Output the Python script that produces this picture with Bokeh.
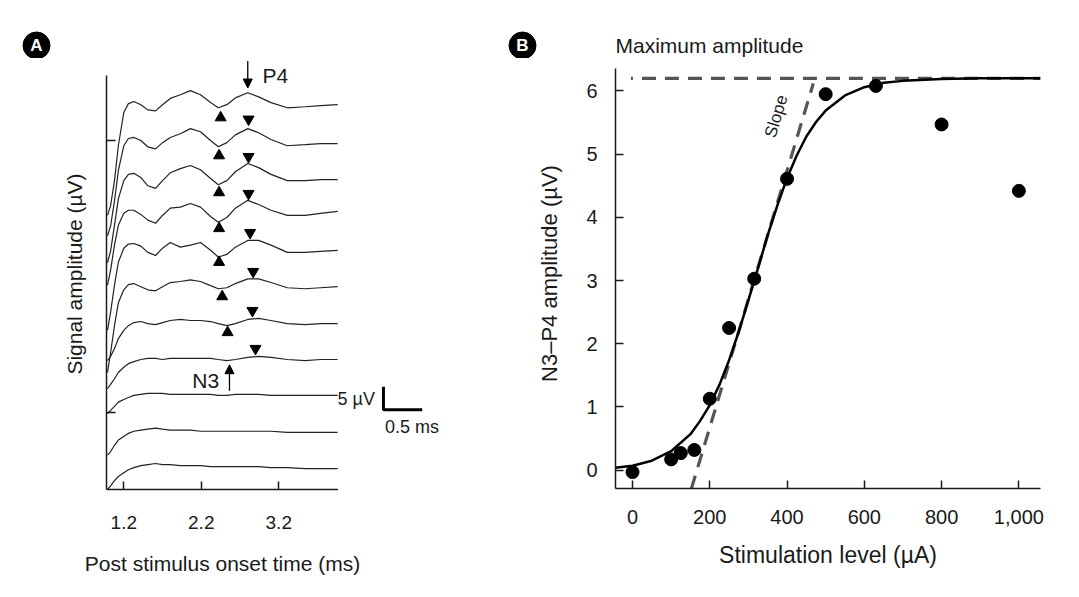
from bokeh.plotting import figure
from bokeh.layouts import row, column
from bokeh.models import (Range1d, Label, Arrow, NormalHead, FixedTicker,
                          NumeralTickFormatter)
from bokeh.core.properties import value
from bokeh.embed import file_html
from bokeh.resources import INLINE

FONT = "Liberation Sans"
INK = "#1a1a1a"

# ---------------- Panel A data (evoked traces) ----------------
trace_time_ms = [0.99, 1.03, 1.08, 1.13, 1.20, 1.26, 1.33, 1.42, 1.51, 1.61, 1.70, 1.80, 1.93,
                 2.06, 2.19, 2.32, 2.42, 2.53, 2.64, 2.80, 2.94, 3.10, 3.31, 3.54, 3.74, 3.96]
trace_offsets_uV = [74.0, 66.5, 59.6, 53.5, 46.0, 39.0, 31.9, 25.0, 18.1, 11.0, 4.0]
trace_1 = [-21.3, -19.4, -14.6, -7.9, -1.5, 0.2, 0.6, 0.0, -1.0, -1.2, 0.0, 1.2, 1.9, 2.7, 1.9, 0.4, -0.6, 0.0, 1.3, 2.3, 1.5, 0.4, -0.6, -0.4, -0.2, 0.0]
trace_2 = [-17.7, -15.8, -11.0, -5.2, -0.4, 1.0, 1.2, 0.6, -0.6, -1.0, 0.2, 1.2, 1.9, 2.9, 2.3, 0.6, -0.6, 0.2, 1.7, 2.9, 2.1, 0.8, -0.4, -0.2, 0.0, 0.0]
trace_3 = [-16.0, -13.7, -8.8, -3.7, -0.2, 1.0, 1.2, 0.4, -1.2, -1.7, -0.2, 1.3, 2.1, 2.7, 1.9, 0.2, -1.0, -0.2, 1.5, 3.1, 2.3, 1.0, -0.2, -0.2, 0.0, 0.0]
trace_4 = [-14.2, -11.3, -6.5, -2.7, -0.4, 0.2, 0.2, -0.6, -1.7, -2.3, -0.8, 0.6, 0.8, 1.5, 0.8, -1.0, -2.1, -1.2, 0.6, 2.1, 1.3, 0.2, -0.8, -0.8, -0.4, 0.0]
trace_5 = [-15.4, -11.9, -6.7, -2.3, 0.4, 1.2, 1.3, 0.8, -0.4, -1.0, 0.4, 1.5, 0.6, 1.0, 1.5, 0.0, -1.3, -0.8, 0.6, 1.9, 1.9, 1.0, -0.4, -0.4, -0.2, 0.0]
trace_6 = [-16.5, -12.7, -7.5, -3.1, -0.6, 0.4, 0.6, 0.0, -0.6, -0.8, 0.0, 0.8, 1.0, 1.3, 1.0, 0.2, -0.4, -0.2, 0.6, 1.5, 1.5, 0.8, -0.2, -0.4, -0.2, 0.0]
trace_7 = [-7.1, -6.3, -4.8, -2.9, -1.3, -0.4, 0.2, 0.4, 0.0, -0.2, 0.2, 0.6, 0.8, 0.6, 0.6, 0.4, 0.0, -0.4, 0.0, 0.8, 1.0, 0.6, 0.0, -0.2, 0.0, 0.0]
trace_8 = [-5.6, -4.8, -3.7, -2.5, -1.5, -0.8, -0.4, 0.0, 0.2, 0.2, 0.0, 0.2, 0.2, 0.2, 0.2, 0.2, 0.0, -0.2, 0.0, 0.4, 0.6, 0.4, 0.0, -0.2, 0.0, 0.0]
trace_9 = [-3.5, -2.9, -2.1, -1.3, -0.8, -0.4, 0.0, 0.2, 0.4, 0.4, 0.4, 0.2, 0.2, 0.2, 0.2, 0.2, 0.0, 0.0, 0.2, 0.2, 0.2, 0.0, 0.0, 0.0, 0.0, 0.0]
trace_10 = [-4.4, -3.7, -2.5, -1.5, -0.8, -0.2, 0.2, 0.4, 0.6, 0.8, 0.6, 0.4, 0.4, 0.4, 0.2, 0.2, 0.2, 0.2, 0.2, 0.2, 0.2, 0.2, 0.0, 0.0, 0.0, 0.0]
trace_11 = [-4.0, -3.3, -2.3, -1.5, -0.8, -0.2, 0.2, 0.6, 0.8, 1.0, 0.8, 0.8, 0.6, 0.6, 0.6, 0.4, 0.4, 0.4, 0.4, 0.4, 0.4, 0.2, 0.2, 0.0, 0.0, 0.0]
traces = [trace_1, trace_2, trace_3, trace_4, trace_5, trace_6,
          trace_7, trace_8, trace_9, trace_10, trace_11]

n3_marker_t = [2.45, 2.43, 2.43, 2.43, 2.43, 2.47, 2.54]
n3_marker_v = [71.5, 64.2, 57.1, 50.2, 43.7, 37.1, 30.2]
p4_marker_t = [2.81, 2.81, 2.81, 2.83, 2.87, 2.86, 2.90]
p4_marker_v = [71.2, 64.0, 56.9, 49.4, 41.9, 34.4, 27.1]

a_x_ticks = [1.2, 2.2, 3.2]
a_y_marks = [14.8, 67.1]
scale_uV = 5
scale_ms = 0.5

# ---------------- Panel B data (input/output function) ----------------
stim_uA = [0, 100, 125, 160, 200, 250, 315, 400, 500, 630, 800, 1000]
amp_uV = [-0.03, 0.17, 0.27, 0.32, 1.13, 2.25, 3.03, 4.61, 5.95, 6.08, 5.47, 4.42]
fit_x = [-45, 0, 50, 100, 150, 175, 200, 225, 250, 275, 300, 325, 350, 375, 400,
         425, 450, 475, 500, 550, 600, 650, 700, 800, 900, 1056]
fit_y = [0.04, 0.07, 0.15, 0.30, 0.57, 0.78, 1.03, 1.35, 1.74, 2.19, 2.69, 3.20, 3.72, 4.19, 4.62,
         4.98, 5.28, 5.51, 5.69, 5.93, 6.06, 6.13, 6.16, 6.19, 6.20, 6.20]
max_amp = 6.2
slope_x = [152, 468]
slope_y = [-0.3, 6.12]
b_x_ticks = [0, 200, 400, 600, 800, 1000]
b_y_ticks = [0, 1, 2, 3, 4, 5, 6]


def bare(fig):
    fig.outline_line_color = None
    fig.grid.visible = False
    return fig


# ---------------- header strip (panel badges, caption) ----------------
head = bare(figure(width=1071, height=58, x_range=Range1d(0, 1071), y_range=Range1d(0, 58),
                   output_backend="svg", toolbar_location=None,
                   x_axis_location=None, y_axis_location=None, min_border=0))
head.scatter([36, 522], [13, 13], marker="circle", size=27, color="black")
head.text([36, 522], [13, 13], text=["A", "B"], text_font=value(FONT), text_font_style="bold",
          text_font_size="17px", text_color="white", text_align="center", text_baseline="middle")
head.text([615], [13], text=["Maximum amplitude"], text_font=value(FONT), text_font_size="21px",
          text_color=INK, text_align="left", text_baseline="middle")

# ================= Panel A =================
pa = bare(figure(width=338, height=487, x_range=Range1d(0.977, 3.971), y_range=Range1d(0, 82.88),
                 output_backend="svg", toolbar_location=None,
                 min_border_left=106, min_border_right=0, min_border_top=0, min_border_bottom=56))

pa.xaxis.ticker = FixedTicker(ticks=a_x_ticks)
pa.xaxis.major_tick_in = 8
pa.xaxis.major_tick_out = 0
pa.xaxis.minor_tick_line_color = None
pa.xaxis.major_label_standoff = 26
pa.xaxis.major_label_text_font = FONT
pa.xaxis.major_label_text_font_size = "19px"
pa.xaxis.major_label_text_color = INK

pa.yaxis.ticker = FixedTicker(ticks=a_y_marks)
pa.yaxis.bounds = (0, 79.6)
pa.yaxis.major_tick_in = 9
pa.yaxis.major_tick_out = 0
pa.yaxis.minor_tick_line_color = None
pa.yaxis.major_label_overrides = {v: "" for v in a_y_marks}
pa.yaxis.major_label_standoff = 0
pa.yaxis.axis_label = "Signal amplitude (µV)"
pa.yaxis.axis_label_standoff = 21
for ax in (pa.xaxis, pa.yaxis):
    ax.axis_line_width = 1.5
    ax.axis_line_color = INK
    ax.major_tick_line_width = 1.5
    ax.major_tick_line_color = INK
    ax.axis_label_text_font = FONT
    ax.axis_label_text_font_size = "21px"
    ax.axis_label_text_font_style = "normal"
    ax.axis_label_text_color = INK

for off, tr in zip(trace_offsets_uV, traces):
    pa.line(trace_time_ms, [off + v for v in tr], line_color="#222222", line_width=1.2)

pa.scatter(n3_marker_t, n3_marker_v, marker="triangle", size=11, color="black")
pa.scatter(p4_marker_t, p4_marker_v, marker="inverted_triangle", size=11, color="black")

pa.add_layout(Arrow(end=NormalHead(size=9, fill_color="black", line_color="black"),
                    x_start=2.80, y_start=82.4, x_end=2.80, y_end=77.2,
                    line_color="black", line_width=1.3))
pa.add_layout(Label(x=2.99, y=79.6, text="P4", text_font=FONT, text_font_size="21px",
                    text_baseline="middle", text_color=INK))
pa.add_layout(Arrow(end=NormalHead(size=9, fill_color="black", line_color="black"),
                    x_start=2.564, y_start=19.0, x_end=2.564, y_end=24.0,
                    line_color="black", line_width=1.3))
pa.add_layout(Label(x=2.43, y=21.0, text="N3", text_font=FONT, text_font_size="21px",
                    text_align="right", text_baseline="middle", text_color=INK))

# ---------------- scale bar (same µV / ms scale as panel A) ----------------
bar = bare(figure(width=132, height=487, x_range=Range1d(3.971, 5.674),
                  y_range=Range1d(-10.77, 82.88),
                  output_backend="svg", toolbar_location=None,
                  x_axis_location=None, y_axis_location=None, min_border=0))
sx, sy = 4.551, 6.54
bar.line([sx, sx, sx + scale_ms], [sy + scale_uV, sy, sy], line_color="black", line_width=3)
bar.text([sx - 0.11], [sy + 2.4], text=["5 µV"], text_font=value(FONT), text_font_size="18px",
         text_align="right", text_baseline="middle", text_color=INK)
bar.text([sx + 0.02], [sy - 3.8], text=["0.5 ms"], text_font=value(FONT), text_font_size="18px",
         text_align="left", text_baseline="middle", text_color=INK)

# ---------------- panel A axis title strip ----------------
foot = bare(figure(width=470, height=44, x_range=Range1d(0, 470), y_range=Range1d(0, 44),
                   output_backend="svg", toolbar_location=None,
                   x_axis_location=None, y_axis_location=None, min_border=0))
foot.text([222], [26], text=["Post stimulus onset time (ms)"], text_font=value(FONT),
          text_font_size="21px", text_color=INK, text_align="center", text_baseline="middle")

# ================= Panel B =================
pb = bare(figure(width=601, height=531, x_range=Range1d(-44, 1056), y_range=Range1d(-0.29, 6.514),
                 output_backend="svg", toolbar_location=None,
                 min_border_left=145, min_border_right=31, min_border_top=0, min_border_bottom=101))

pb.xaxis.ticker = FixedTicker(ticks=b_x_ticks)
pb.xaxis.formatter = NumeralTickFormatter(format="0,0")
pb.xaxis.axis_label = "Stimulation level (µA)"
pb.xaxis.major_label_standoff = 21
pb.xaxis.axis_label_standoff = 15
pb.xaxis.axis_label_text_font_size = "23px"
pb.yaxis.ticker = FixedTicker(ticks=b_y_ticks)
pb.yaxis.bounds = (-0.29, 6.36)
pb.yaxis.axis_label = "N3–P4 amplitude (µV)"
pb.yaxis.major_label_standoff = 18
pb.yaxis.axis_label_standoff = 21
pb.yaxis.axis_label_text_font_size = "22px"
for ax in (pb.xaxis, pb.yaxis):
    ax.major_tick_in = 8
    ax.major_tick_out = 0
    ax.minor_tick_line_color = None
    ax.axis_line_width = 1.5
    ax.axis_line_color = INK
    ax.major_tick_line_width = 1.5
    ax.major_tick_line_color = INK
    ax.major_label_text_font = FONT
    ax.major_label_text_font_size = "20px"
    ax.major_label_text_color = INK
    ax.axis_label_text_font = FONT
    ax.axis_label_text_font_style = "normal"
    ax.axis_label_text_color = INK

pb.line([-4, 1056], [max_amp, max_amp], line_color="#555555", line_width=3.2,
        line_dash="14 9", line_dash_offset=12)
pb.line(slope_x, slope_y, line_color="#555555", line_width=3.2, line_dash="14 9")
pb.line(fit_x, fit_y, line_color="black", line_width=2.5)
pb.scatter(stim_uA, amp_uV, marker="circle", size=13, color="black")

pb.add_layout(Label(x=372, y=5.6, text="Slope", text_font=FONT, text_font_size="17px",
                    angle=1.274, text_align="center", text_baseline="middle", text_color=INK))

layout = column(head, row(column(row(pa, bar), foot), pb))
open("out.html", "w").write(file_html(layout, INLINE))
